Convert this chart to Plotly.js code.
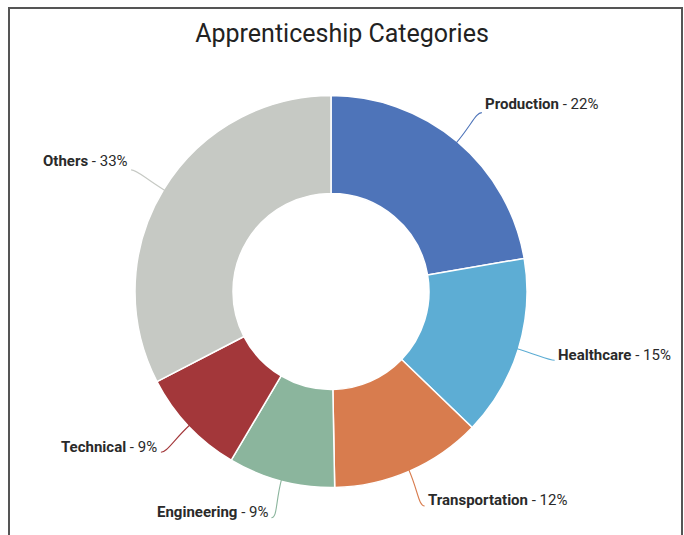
<!DOCTYPE html>
<html>
<head>
<meta charset="utf-8">
<script src="https://cdn.plot.ly/plotly-3.0.1.min.js"></script>
<style>
  html, body { margin: 0; padding: 0; background: #fff; }
  #wrap { position: relative; width: 684px; height: 535px; overflow: hidden; }
  #chart { width: 684px; height: 535px; }
  #frame { position: absolute; left: 8px; top: 7px; width: 671px; height: 600px;
           border: 2px solid #555; pointer-events: none; }
</style>
</head>
<body>
<div id="wrap"><div id="chart"></div><div id="frame"></div></div>
<script>
const categories = ["Production", "Healthcare", "Transportation", "Engineering", "Technical", "Others"];
const shares = [22.3, 14.9, 12.5, 8.8, 8.9, 32.6];
const percentLabels = [22, 15, 12, 9, 9, 33];
const colors = ["#4e74b9", "#5dadd4", "#d87c4e", "#8bb59d", "#a3373a", "#c6c9c4"];
const chartTitle = "Apprenticeship Categories";

const W = 684, H = 535;
const cx = 331, cy = 291.5, R = 196;   // donut geometry in pixels
const lineR = 234;                    // leader line end radius
const px = x => x / W;
const py = y => 1 - y / H;

const total = shares.reduce((a, b) => a + b, 0);
const shapes = [], annotations = [];
let cum = 0;
shares.forEach((v, i) => {
  const mid = (cum + v / 2) / total * 2 * Math.PI;
  cum += v;
  const s = Math.sin(mid), c = Math.cos(mid);
  const x0 = cx + (R - 2) * s, y0 = cy - (R - 2) * c;
  const x3 = cx + lineR * s, y3 = cy - lineR * c;
  const right = s >= 0;
  const dir = right ? 1 : -1;
  const x1 = cx + (R + 22) * s, y1 = cy - (R + 22) * c;
  const x2 = x3 - dir * 6, y2 = y3;
  const path = `M ${px(x0)},${py(y0)} C ${px(x1)},${py(y1)} ${px(x2)},${py(y2)} ${px(x3)},${py(y3)}`;
  shapes.push({ type: "path", xref: "paper", yref: "paper", path: path,
                line: { color: colors[i], width: 1.1 } });
  const dy = c >= 0 ? 9 : 5.5;
  annotations.push({
    xref: "paper", yref: "paper",
    x: px(x3 + dir * 1.5), y: py(y3 - dy),
    xanchor: right ? "left" : "right", yanchor: "middle",
    text: `<b>${categories[i]}</b> - ${percentLabels[i]}%`,
    showarrow: false,
    font: { family: "Roboto, sans-serif", size: 15, color: "#2a2a2a" }
  });
});

const trace = {
  type: "pie",
  labels: categories,
  values: shares,
  hole: 0.5,
  sort: false,
  direction: "clockwise",
  rotation: 0,
  textinfo: "none",
  marker: { colors: colors, line: { color: "#ffffff", width: 1.5 } },
  domain: { x: [px(cx - R), px(cx + R)], y: [py(cy + R), py(cy - R)] },
  showlegend: false,
  hoverinfo: "label+percent"
};

const layout = {
  width: W, height: H,
  margin: { l: 0, r: 0, t: 0, b: 0 },
  paper_bgcolor: "#ffffff",
  title: { text: chartTitle, x: 0.5, xanchor: "center", y: py(33), yanchor: "middle",
           font: { family: "Roboto, sans-serif", size: 25, color: "#222" } },
  shapes: shapes,
  annotations: annotations,
  showlegend: false
};

Plotly.newPlot("chart", [trace], layout, { displayModeBar: false, staticPlot: true });
</script>
</body>
</html>
